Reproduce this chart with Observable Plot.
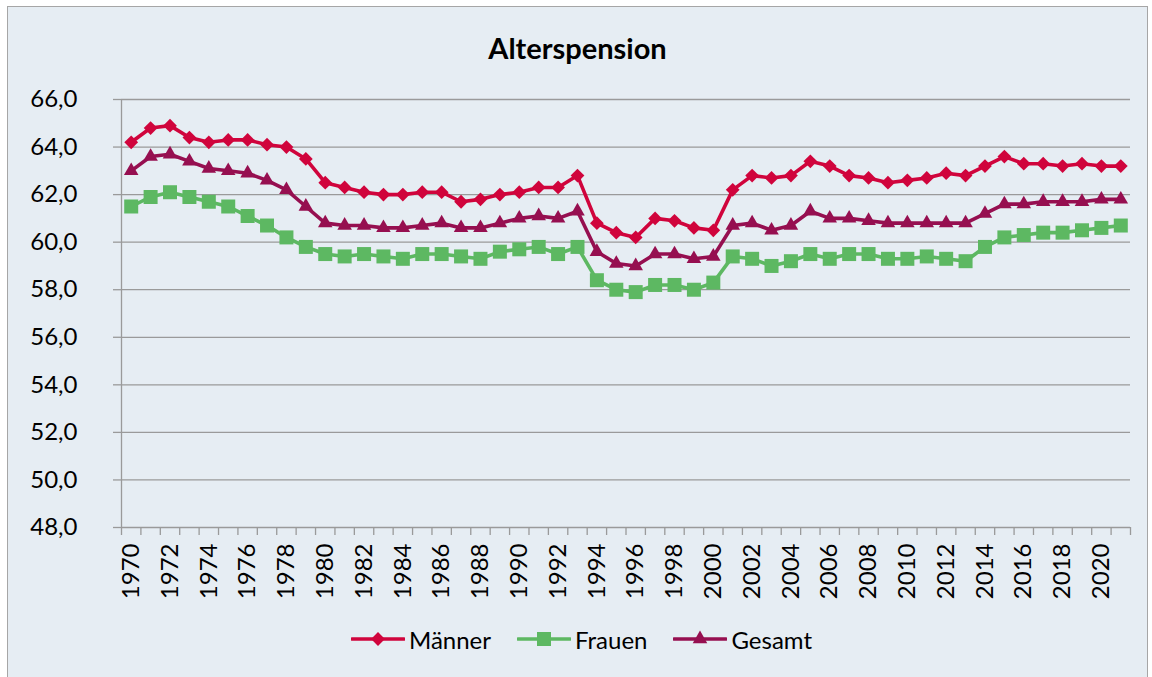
<!DOCTYPE html>
<html><head><meta charset="utf-8">
<script src="https://cdn.jsdelivr.net/npm/d3@7"></script>
<script src="https://cdn.jsdelivr.net/npm/@observablehq/plot@0.6"></script>
<style>
body{margin:0;background:#fff;font-family:Lato,"Open Sans",sans-serif;}
#chart{position:absolute;left:7px;top:6px;width:1139px;height:690px;border:1px solid #a6a6a6;background:#e6edf3;}
#title{height:70px;line-height:82px;text-align:center;font-weight:bold;font-size:29px;color:#000;}
#plot svg{display:block;}
#legend{height:64px;display:flex;justify-content:center;align-items:center;padding-left:8px;font-size:24px;color:#000;}
.item{display:flex;align-items:center;margin:0 13px;}
.item svg{margin-right:4px;}
</style>
</head><body>
<div id="chart">
  <div id="title">Alterspension</div>
  <div id="plot"></div>
  <div id="legend"></div>
</div>
<script>
const years = [1970,1971,1972,1973,1974,1975,1976,1977,1978,1979,
  1980,1981,1982,1983,1984,1985,1986,1987,1988,1989,
  1990,1991,1992,1993,1994,1995,1996,1997,1998,1999,
  2000,2001,2002,2003,2004,2005,2006,2007,2008,2009,
  2010,2011,2012,2013,2014,2015,2016,2017,2018,2019,
  2020,2021];
const maenner = [64.2,64.8,64.9,64.4,64.2,64.3,64.3,64.1,64.0,63.5,
  62.5,62.3,62.1,62.0,62.0,62.1,62.1,61.7,61.8,62.0,
  62.1,62.3,62.3,62.8,60.8,60.4,60.2,61.0,60.9,60.6,
  60.5,62.2,62.8,62.7,62.8,63.4,63.2,62.8,62.7,62.5,
  62.6,62.7,62.9,62.8,63.2,63.6,63.3,63.3,63.2,63.3,
  63.2,63.2];
const frauen = [61.5,61.9,62.1,61.9,61.7,61.5,61.1,60.7,60.2,59.8,
  59.5,59.4,59.5,59.4,59.3,59.5,59.5,59.4,59.3,59.6,
  59.7,59.8,59.5,59.8,58.4,58.0,57.9,58.2,58.2,58.0,
  58.3,59.4,59.3,59.0,59.2,59.5,59.3,59.5,59.5,59.3,
  59.3,59.4,59.3,59.2,59.8,60.2,60.3,60.4,60.4,60.5,
  60.6,60.7];
const gesamt = [63.0,63.6,63.7,63.4,63.1,63.0,62.9,62.6,62.2,61.5,
  60.8,60.7,60.7,60.6,60.6,60.7,60.8,60.6,60.6,60.8,
  61.0,61.1,61.0,61.3,59.6,59.1,59.0,59.5,59.5,59.3,
  59.4,60.7,60.8,60.5,60.7,61.3,61.0,61.0,60.9,60.8,
  60.8,60.8,60.8,60.8,61.2,61.6,61.6,61.7,61.7,61.7,
  61.8,61.8];
const seriesNames = ["Männer","Frauen","Gesamt"];
const yTicks = [48,50,52,54,56,58,60,62,64,66];

const styles = [
  {name:"Männer", color:"#d0043c", symbol:"diamond2", r:6.2},
  {name:"Frauen", color:"#5db862", symbol:"square", r:7.9},
  {name:"Gesamt", color:"#960f50", symbol:"triangle", r:5.4}
];
const valuesBy = {"Männer":maenner, "Frauen":frauen, "Gesamt":gesamt};
const data = seriesNames.flatMap(s => years.map((y,i) => ({year:y, value:valuesBy[s][i], series:s})));
const boundaries = years.map(y => y - 0.5).concat([years[years.length-1] + 0.5]);
const labelYears = years.filter(y => y % 2 === 0);
const gridColor = "#9a9a9a";

const chart = Plot.plot({
  width:1139, height:530,
  marginLeft:113, marginRight:17, marginTop:22, marginBottom:80,
  style:{background:"transparent", fontFamily:"Lato, 'Open Sans', sans-serif", fontSize:"24px", color:"#000", overflow:"visible"},
  x:{type:"linear", domain:[boundaries[0], boundaries[boundaries.length-1]]},
  y:{domain:[yTicks[0], yTicks[yTicks.length-1]]},
  marks:[
    Plot.gridY(yTicks, {stroke:gridColor, strokeOpacity:1, strokeWidth:1.3}),
    Plot.axisY(yTicks, {tickSize:8, tickPadding:36, stroke:gridColor, strokeWidth:1.3, tickFormat:d => d.toFixed(1).replace(".", ","), label:null}),
    Plot.ruleX([boundaries[0]], {stroke:gridColor, strokeWidth:1.3}),
    Plot.axisX(boundaries, {tickSize:8, stroke:gridColor, strokeWidth:1.3, tickFormat:() => "", label:null}),
    Plot.axisX(labelYears, {tickSize:0, tickPadding:16, tickRotate:-90, tickFormat:d => String(d), label:null}),
    ...styles.map(s => Plot.line(data.filter(d => d.series === s.name), {x:"year", y:"value", stroke:s.color, strokeWidth:3.6})),
    ...styles.map(s => Plot.dot(data.filter(d => d.series === s.name), {x:"year", y:"value", fill:s.color, symbol:s.symbol, r:s.r}))
  ]
});
document.getElementById("plot").appendChild(chart);

const legend = document.getElementById("legend");
styles.forEach(s => {
  const item = document.createElement("div");
  item.className = "item";
  const svg = d3.create("svg").attr("width", 54).attr("height", 20);
  svg.append("line").attr("x1", 1).attr("x2", 53).attr("y1", 10).attr("y2", 10)
    .attr("stroke", s.color).attr("stroke-width", 3.6).attr("stroke-linecap", "round");
  const sym = {diamond2:d3.symbolDiamond2, square:d3.symbolSquare, triangle:d3.symbolTriangle}[s.symbol];
  svg.append("path").attr("transform", "translate(27,10)")
    .attr("d", d3.symbol(sym, Math.PI * s.r * s.r)()).attr("fill", s.color);
  item.appendChild(svg.node());
  const t = document.createElement("span");
  t.textContent = s.name;
  item.appendChild(t);
  legend.appendChild(item);
});
</script>
</body></html>
